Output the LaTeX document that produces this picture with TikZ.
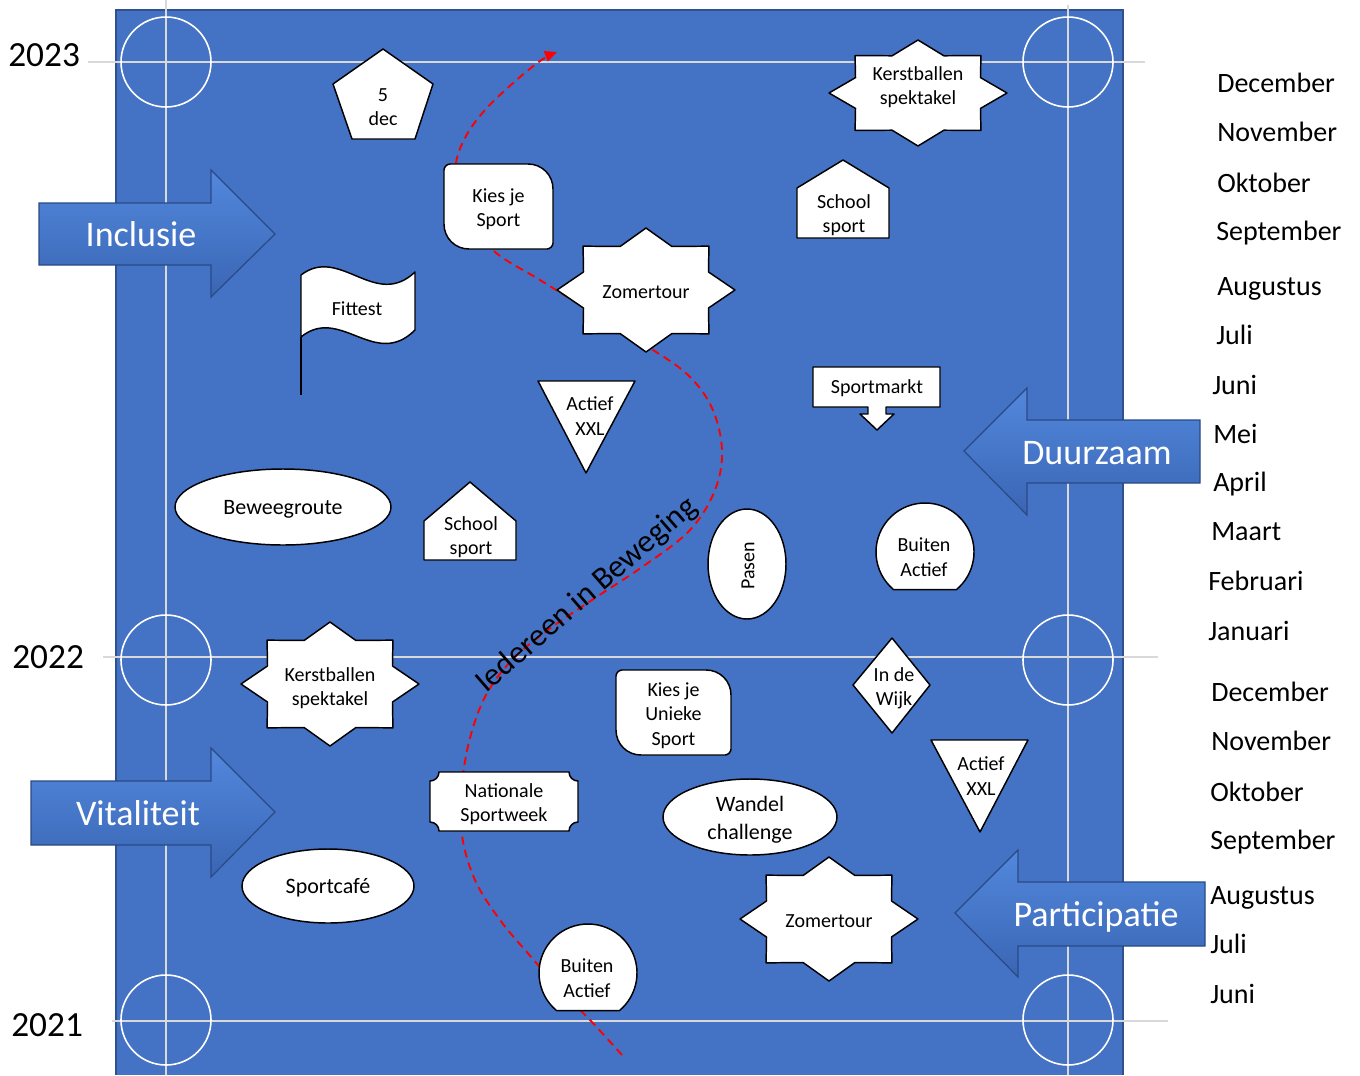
\documentclass[tikz,border=0pt]{standalone}
\usepackage{fontspec}
\setmainfont{Carlito}
\usetikzlibrary{arrows.meta}
\definecolor{slideblue}{HTML}{4472C4}
\definecolor{slideedge}{HTML}{2F528F}
\definecolor{gridgray}{HTML}{D9D9D9}
\definecolor{arrowlight}{HTML}{5288DD}
\definecolor{arrowmid}{HTML}{4678CD}
\definecolor{arrowdark}{HTML}{3A65B3}
\definecolor{arrowedge}{HTML}{2A4A85}

\begin{document}
\begin{tikzpicture}[x=0.75pt,y=-0.75pt,>=Stealth]
\tikzset{shp/.style={draw=black,fill=white,line width=1.1pt,line join=round},
  lbl/.style={align=center,inner sep=0pt,yshift=-1.5pt,font=\fontsize{15}{18.3}\selectfont},
  ellbl/.style={align=center,inner sep=0pt,yshift=-1.5pt,font=\fontsize{16.5}{21}\selectfont},
  month/.style={anchor=base west,inner sep=0pt,font=\fontsize{21}{25}\selectfont},
  year/.style={anchor=base west,inner sep=0pt,font=\fontsize{26.5}{30}\selectfont},
  gridline/.style={draw=gridgray,line width=0.8pt},
  ring/.style={draw=white,line width=1.2pt},
  blockarrow/.style={draw=arrowedge,line width=0.9pt,top color=arrowlight,middle color=arrowmid,bottom color=arrowdark},
  arrowtxt/.style={anchor=base,inner sep=0pt,text=white,font=\fontsize{27}{30}\selectfont},
  route/.style={draw=red,line width=1.4pt,dash pattern=on 6pt off 4pt,-{Triangle[length=9pt,width=8pt]}}}
\useasboundingbox (0,0) rectangle (1360,1075);
% ---------- shape macros ----------
\newcommand\octstar[7]{\draw[shp,shift={(#2,#3)},xscale=#4,yscale=#5] (0:1)
  \foreach \k [evaluate=\k as \f using {1-0.24*mod(\k,2)}] in {1,...,15} { -- (\k*22.5:\f)} -- cycle;
  \node[lbl] (#1) at (#2,#6) {#7};}
\newcommand\rdrect[6]{\draw[shp] ({#2+6},#3) -- ({#4-25},#3)
  .. controls ({#4-11},#3) and (#4,{#3+11}) .. (#4,{#3+25})
  -- (#4,{#5-6}) .. controls (#4,{#5-3}) and ({#4-3},#5) .. ({#4-6},#5)
  -- ({#2+25},#5) .. controls ({#2+11},#5) and (#2,{#5-11}) .. (#2,{#5-25})
  -- (#2,{#3+6}) .. controls (#2,{#3+3}) and ({#2+3},#3) .. ({#2+6},#3) -- cycle;
  \node[lbl] (#1) at ({(#2+#4)/2},{(#3+#5)/2+1}) {#6};}
\newcommand\house[7]{\draw[shp] ({(#2+#3)/2},#4) -- (#3,#5) -- (#3,#6) -- (#2,#6) -- (#2,#5) -- cycle;
  \node[lbl] (#1) at ({(#2+#3)/2+1},{#6-25}) {#7};}
\newcommand\chordc[4]{\draw[shp,shift={(#2,#3)}] (130:49) arc[start angle=130,end angle=410,radius=49] -- cycle;
  \node[lbl] (#1) at ({#2-1},{#3+3}) {#4};}
% ---------- background ----------
\fill[slideblue] (116,10) rectangle (1123,1075);
\draw[slideedge,line width=0.8pt] (116,1075) -- (116,10) -- (1123,10) -- (1123,1075);
\draw[gridline] (166,0) -- (166,1075);
\draw[gridline] (1068,5) -- (1068,1075);
\draw[gridline] (88,62) -- (1145,62);
\draw[gridline] (103,657) -- (1158,657);
\draw[gridline] (112,1021) -- (1168,1021);
\foreach \cx in {166,1068} {
  \foreach \cy in {62,660,1020} {\draw[ring] (\cx,\cy) circle[radius=45];}}
% ---------- years and months ----------
\node[year] (y2023) at (8,66) {2023};
\node[year] (y2022) at (12,668) {2022};
\node[year] (y2021) at (11,1036) {2021};
\foreach \m/\mx/\my [count=\i] in {December/1217/83,November/1217/132,Oktober/1217/183,
  September/1216/231,Augustus/1217/286,Juli/1216/335,Juni/1212/385,Mei/1213/434,April/1213/482,
  Maart/1211/531,Februari/1208/581,Januari/1208/631,December/1211/692,November/1211/741,
  Oktober/1210/792,September/1210/840,Augustus/1210/895,Juli/1210/944,Juni/1210/994}
  \node[month] (m\i) at (\mx,\my+9) {\m};
% ---------- route ----------
\draw[route] plot[smooth,tension=0.6] coordinates {(622,1055) (590,1020) (560,990) (532,958)
  (500,920) (475,880) (462,835) (462,785) (470,738) (486,695) (512,660) (548,630) (595,598)
  (645,565) (690,530) (715,490) (722,450) (712,408) (688,375) (650,348) (615,327) (585,308)
  (540,280) (495,252) (470,220) (458,190) (456,163) (466,136) (485,110) (512,84) (540,61) (557,52)};
\node[rotate=41,inner sep=0pt,font=\fontsize{24}{28}\selectfont] (motto) at (587,595) {Iedereen in Beweging};
% ---------- events 2023 ----------
\draw[shp] (383,49) -- (433,84) -- (415,139) -- (352,139) -- (333,84) -- cycle;
\node[lbl] (dec5) at (383,105) {5\\dec};
\octstar{kerstA}{918}{93}{89}{53}{85}{Kerstballen\\spektakel}
\rdrect{kiesA}{444}{164}{553}{249}{Kies je\\Sport}
\house{schoolA}{797}{889}{160}{188}{238}{School\\sport}
\octstar{zomerA}{646}{290}{89}{62}{290}{Zomertour}
\draw[shp] (301,337) -- (301,275) .. controls (340,245) and (375,310) .. (415,272)
  -- (415,330) .. controls (375,370) and (340,305) .. (301,337) -- cycle;
\draw[line width=1.1pt] (301,337) -- (301,395);
\node[lbl] (fittest) at (357,307) {Fittest};
\draw[shp] (813,367) -- (940,367) -- (940,407) -- (886,407) -- (886,414) -- (894,414) -- (877,430)
  -- (860,414) -- (868,414) -- (868,407) -- (813,407) -- cycle;
\node[lbl] (markt) at (877,386) {Sportmarkt};
\draw[shp] (538,381) -- (635,381) -- (586,473) -- cycle;
\node[lbl] (xxlA) at (590,414) {Actief\\XXL};
\draw[shp] (283,507) ellipse[x radius=108,y radius=38];
\node[ellbl] (beweeg) at (283,507) {Beweegroute};
\house{schoolB}{424}{516}{482}{521}{560}{School\\sport}
\draw[shp] (747,564) ellipse[x radius=39,y radius=55];
\node[lbl,rotate=90,yshift=1.5pt] (pasen) at (750,564) {Pasen};
\chordc{buitenA}{925}{552}{Buiten\\Actief}
% ---------- events 2022 ----------
\octstar{kerstB}{330}{684}{89}{62}{686}{Kerstballen\\spektakel}
\draw[shp] (892,638) -- (930,685) -- (892,733) -- (853,685) -- cycle;
\node[lbl] (wijk) at (894,686) {In de\\Wijk};
\rdrect{kiesB}{616}{670}{731}{755}{Kies je\\Unieke\\Sport}
\draw[shp] (931,740) -- (1028,740) -- (980,832) -- cycle;
\node[lbl] (xxlB) at (981,774) {Actief\\XXL};
\draw[shp] (439,772) -- (569,772) .. controls (569,777) and (573,781) .. (578,781) -- (578,822)
  .. controls (573,822) and (569,826) .. (569,831) -- (439,831) .. controls (439,826) and (435,822) .. (430,822)
  -- (430,781) .. controls (435,781) and (439,777) .. (439,772) -- cycle;
\node[lbl] (sportweek) at (504,802) {Nationale\\Sportweek};
\draw[shp] (750,817) ellipse[x radius=87,y radius=38];
\node[ellbl] (wandel) at (750,818) {Wandel\\challenge};
\draw[shp] (328,886) ellipse[x radius=86,y radius=37];
\node[ellbl] (cafe) at (328,886) {Sportcafé};
\octstar{zomerB}{829}{919}{89}{62}{919}{Zomertour}
\chordc{buitenB}{588}{973}{Buiten\\Actief}
% ---------- themes ----------
\draw[blockarrow] (39,203) -- (211,203) -- (211,170) -- (275,234) -- (211,297) -- (211,265) -- (39,265) -- cycle;
\node[arrowtxt] (inclusie) at (141,246) {Inclusie};
\draw[blockarrow] (31,781) -- (211,781) -- (211,748) -- (275,812) -- (211,877) -- (211,845) -- (31,845) -- cycle;
\node[arrowtxt] (vitaliteit) at (138,825) {Vitaliteit};
\draw[blockarrow] (1200,420) -- (1027,420) -- (1027,388) -- (964,451) -- (1027,515) -- (1027,483) -- (1200,483) -- cycle;
\node[arrowtxt] (duurzaam) at (1097,464) {Duurzaam};
\draw[blockarrow] (1205,882) -- (1018,882) -- (1018,850) -- (955,913) -- (1018,977) -- (1018,946) -- (1205,946) -- cycle;
\node[arrowtxt] (participatie) at (1096,926) {Participatie};
\end{tikzpicture}
\end{document}
